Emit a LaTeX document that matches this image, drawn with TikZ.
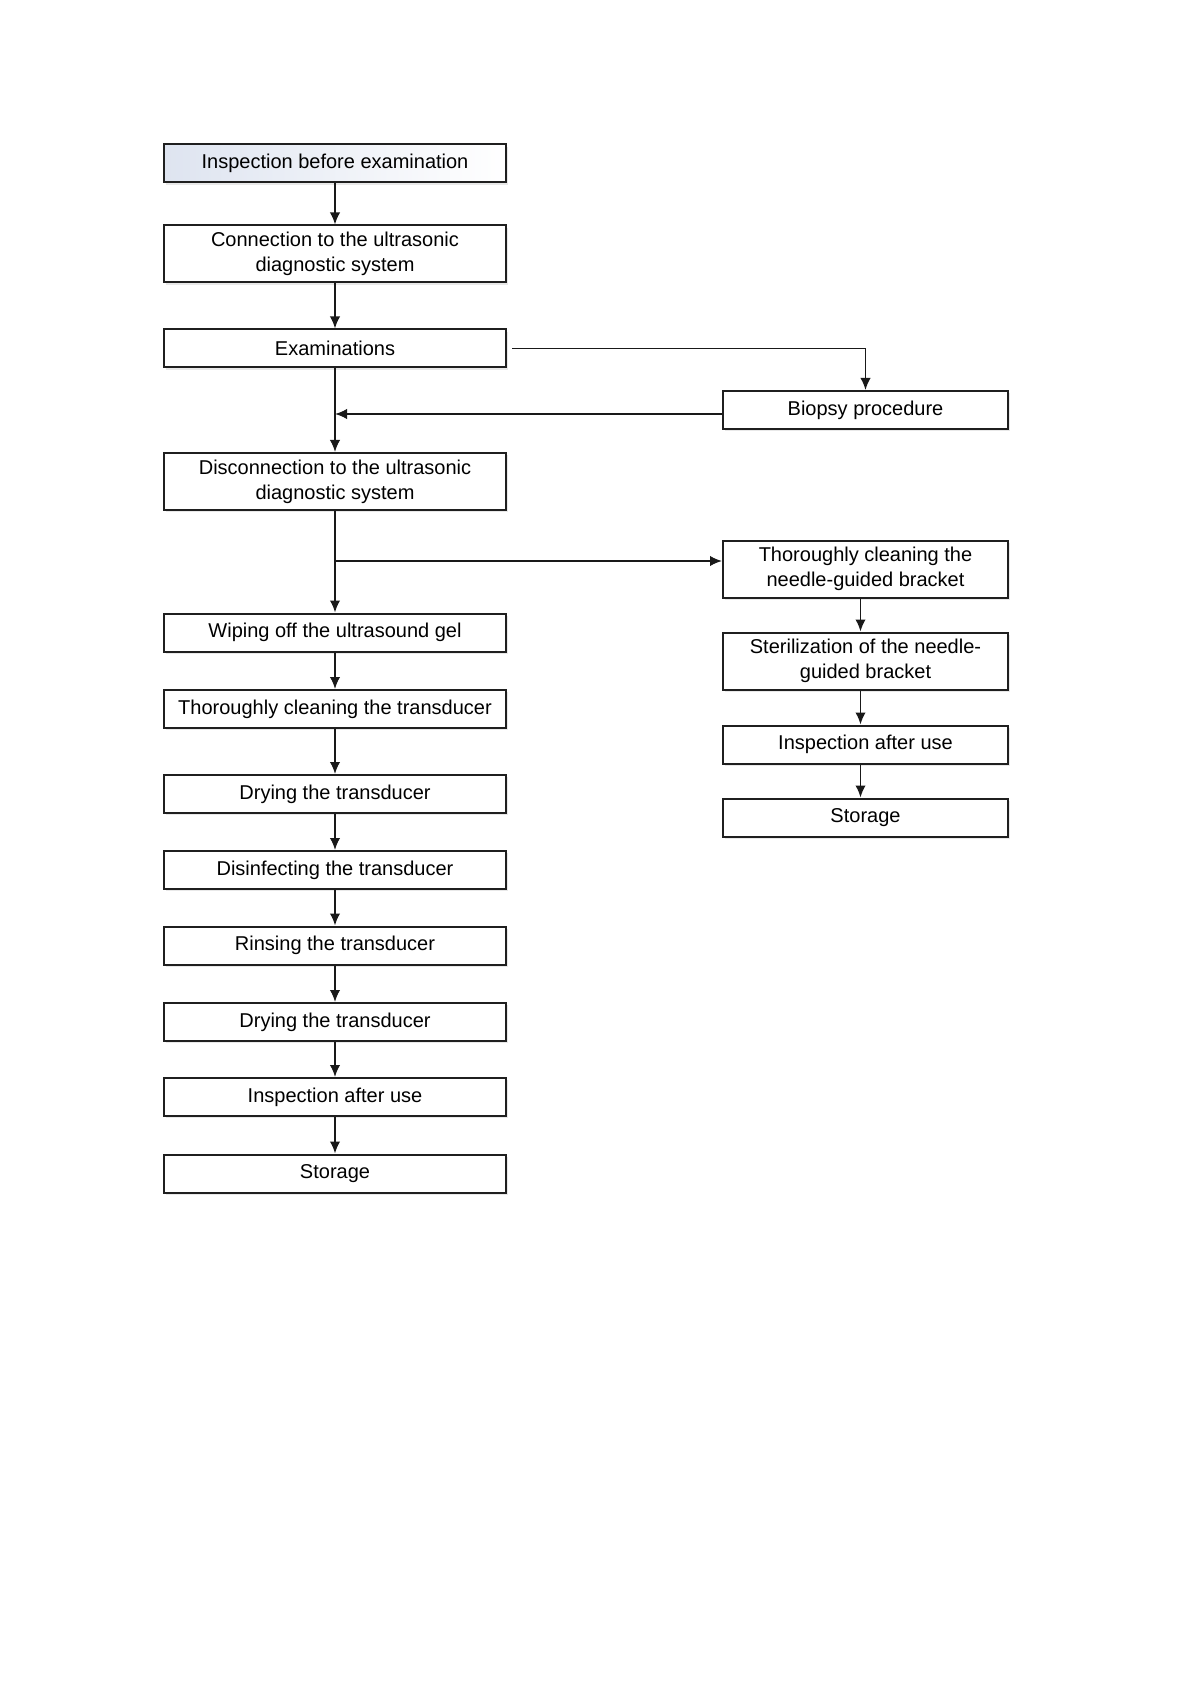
\documentclass[tikz,border=0pt]{standalone}
\usepackage{fontspec}
\setmainfont{Liberation Sans}
\usetikzlibrary{arrows.meta,shadows}
\definecolor{shadeblue}{RGB}{222,228,240}
\begin{document}
\begin{tikzpicture}[x=0.5pt,y=-0.5pt,
  box/.style={draw=black!88, line width=1pt, fill=white, align=center, inner sep=0pt,
    font=\fontsize{10}{12.4}\selectfont,
    drop shadow={shadow xshift=1.2pt, shadow yshift=-1.2pt, opacity=0.18}},
  lbox/.style={box, minimum width=171pt},
  rbox/.style={box, minimum width=142.5pt},
  one/.style={minimum height=19pt},
  two/.style={minimum height=28.5pt},
  arr/.style={draw=black!90, line width=0.9pt, -{Latex[length=6pt,width=5.2pt]}}]
\useasboundingbox (0,0) rectangle (1191,1684);
\fill[white] (0,0) rectangle (1191,1684);

\node[lbox,one,left color=shadeblue,right color=white] (b1) at (335,163.5) {Inspection before examination};
\node[lbox,two] (b2) at (335,254) {Connection to the ultrasonic\\diagnostic system};
\node[lbox,one] (b3) at (335,348.5) {Examinations};
\node[rbox,one] (bio) at (865.5,410) {Biopsy procedure};
\node[lbox,two] (b4) at (335,481.5) {Disconnection to the ultrasonic\\diagnostic system};
\node[lbox,one] (b5) at (335,632.5) {Wiping off the ultrasound gel};
\node[lbox,one] (b6) at (335,709) {Thoroughly cleaning the transducer};
\node[lbox,one] (b7) at (335,794) {Drying the transducer};
\node[lbox,one] (b8) at (335,870) {Disinfecting the transducer};
\node[lbox,one] (b9) at (335,945.5) {Rinsing the transducer};
\node[lbox,one] (b10) at (335,1022) {Drying the transducer};
\node[lbox,one] (b11) at (335,1097) {Inspection after use};
\node[lbox,one] (b12) at (335,1173.5) {Storage};

\node[rbox,two] (r1) at (865.5,569) {Thoroughly cleaning the\\needle-guided bracket};
\node[rbox,two] (r2) at (865.5,661) {Sterilization of the needle-\\guided bracket};
\node[rbox,one] (r3) at (865.5,744.5) {Inspection after use};
\node[rbox,one] (r4) at (865.5,817.5) {Storage};

\draw[arr] (b1) -- (b2);
\draw[arr] (b2) -- (b3);
\draw[arr] (b3) -- (b4);
\draw[arr] ([xshift=2.5pt]b3.east) -| (bio.north);
\draw[arr] ([yshift=-2pt]bio.west) -- ([yshift=-2pt]bio.west -| b3.south);
\draw[arr] (b4) -- (b5);
\draw[arr] ([yshift=4pt]r1.west -| b4.south) -- ([yshift=4pt]r1.west);
\draw[arr] (b5) -- (b6);
\draw[arr] (b6) -- (b7);
\draw[arr] (b7) -- (b8);
\draw[arr] (b8) -- (b9);
\draw[arr] (b9) -- (b10);
\draw[arr] (b10) -- (b11);
\draw[arr] (b11) -- (b12);
\draw[arr] ([xshift=-2.5pt]r1.south) -- ([xshift=-2.5pt]r2.north);
\draw[arr] ([xshift=-2.5pt]r2.south) -- ([xshift=-2.5pt]r3.north);
\draw[arr] ([xshift=-2.5pt]r3.south) -- ([xshift=-2.5pt]r4.north);
\end{tikzpicture}
\end{document}
